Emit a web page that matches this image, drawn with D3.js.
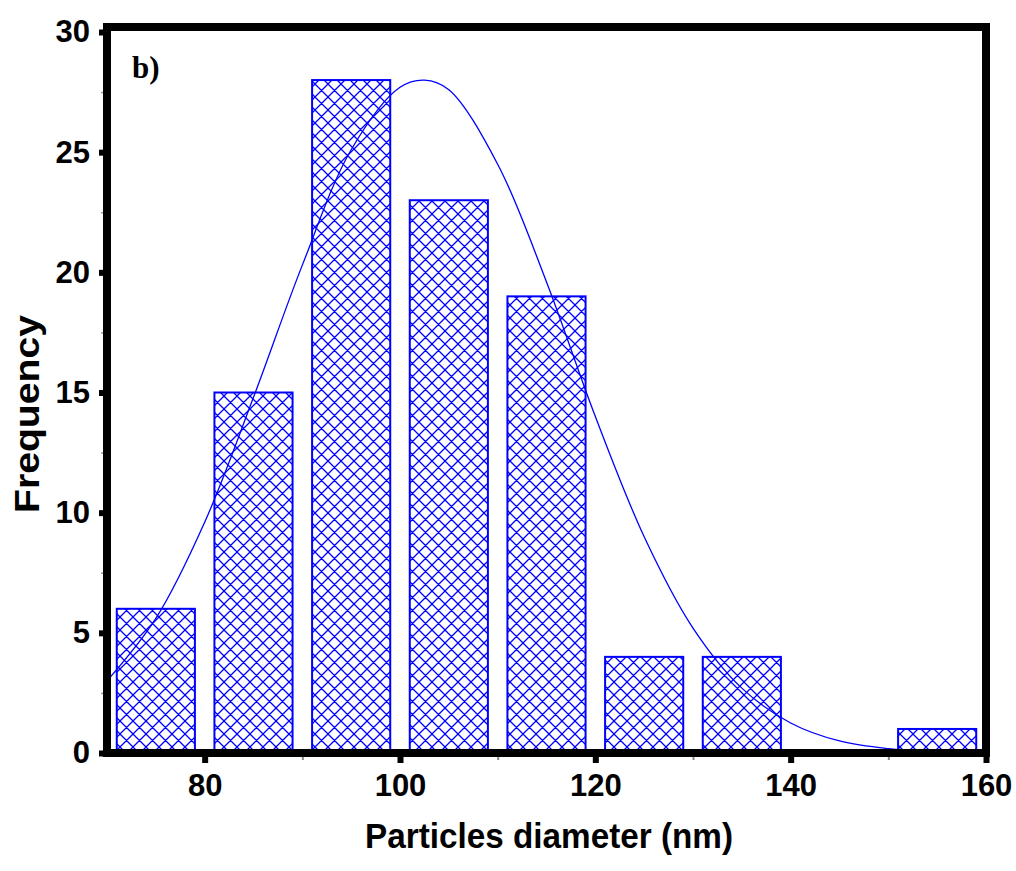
<!DOCTYPE html>
<html>
<head>
<meta charset="utf-8">
<script src="https://cdn.jsdelivr.net/npm/d3@7"></script>
<style>
  body { margin: 0; background: #fff; }
  svg { display: block; }
</style>
</head>
<body>
<div id="chart"></div>
<script>
// histogram bins (bar start, bar end, count)
const binStart = [71, 81, 91, 101, 111, 121, 131, 141, 151];
const binEnd   = [79, 89, 99, 109, 119, 129, 139, 149, 159];
const counts   = [6, 15, 28, 23, 19, 4, 4, 0, 1];

// fitted curve
const fitX = [70, 75, 80, 85, 90, 95, 100, 102.5, 105, 110, 115, 120, 125, 130, 135, 140, 145, 150, 155, 160];
const fitY = [3.0, 5.6, 9.6, 14.8, 20.3, 25.1, 27.7, 28.0, 27.6, 24.5, 19.6, 14.0, 9.0, 5.2, 2.7, 1.25, 0.5, 0.18, 0.06, 0.0];

const xTicks = [80, 100, 120, 140, 160];
const xMinor = [90, 110, 130, 150];
const yTicks = [0, 5, 10, 15, 20, 25, 30];
const yMinor = [2.5, 7.5, 12.5, 17.5, 22.5, 27.5];

const panelLabel = "b)";
const xTitle = "Particles diameter (nm)";
const yTitle = "Frequency";

const svgWidth = 1016, svgHeight = 871;
const margin = {top: 32, right: 30, bottom: 118, left: 107};
const width = svgWidth - margin.left - margin.right;
const height = svgHeight - margin.top - margin.bottom;
const frameTop = -5;   // frame sits a little above the 30 tick

const blue = "#0000ff";

const svg = d3.select("#chart").append("svg")
    .attr("width", svgWidth)
    .attr("height", svgHeight);

const defs = svg.append("defs");
defs.append("pattern")
    .attr("id", "hatch")
    .attr("patternUnits", "userSpaceOnUse")
    .attr("width", 13)
    .attr("height", 13)
    .append("path")
        .attr("d", "M0,0L13,13M13,0L0,13M-1,12L1,14M12,-1L14,1M-1,1L1,-1M12,14L14,12")
        .attr("stroke", blue)
        .attr("stroke-width", 1.3)
        .attr("fill", "none");

defs.append("clipPath")
    .attr("id", "plot-clip")
    .append("rect")
        .attr("y", frameTop)
        .attr("width", width)
        .attr("height", height - frameTop);

const plotArea = svg.append("g")
    .attr("transform", `translate(${margin.left},${margin.top})`);

const x = d3.scaleLinear().domain([70, 160]).range([0, width]);
const y = d3.scaleLinear().domain([0, 30]).range([height, 0]);

const bins = counts.map((c, i) => ({x0: binStart[i], x1: binEnd[i], count: c})).filter(d => d.count > 0);

plotArea.append("g")
    .selectAll("rect")
    .data(bins)
    .enter().append("rect")
        .attr("x", d => x(d.x0))
        .attr("width", d => x(d.x1) - x(d.x0))
        .attr("y", d => y(d.count))
        .attr("height", d => y(0) - y(d.count))
        .attr("fill", "url(#hatch)")
        .attr("stroke", blue)
        .attr("stroke-width", 2);

const line = d3.line()
    .x(d => x(d[0]))
    .y(d => y(d[1]))
    .curve(d3.curveCatmullRom);

plotArea.append("path")
    .datum(fitX.map((v, i) => [v, fitY[i]]))
    .attr("clip-path", "url(#plot-clip)")
    .attr("d", line)
    .attr("fill", "none")
    .attr("stroke", blue)
    .attr("stroke-width", 1.3);

// minor ticks
plotArea.append("g")
    .attr("transform", `translate(0,${height})`)
    .call(d3.axisBottom(x).tickValues(xMinor).tickSize(7).tickFormat(""))
    .call(g => g.select(".domain").remove())
    .call(g => g.selectAll("line").attr("stroke", "#888").attr("stroke-width", 2));

plotArea.append("g")
    .call(d3.axisLeft(y).tickValues(yMinor).tickSize(6).tickFormat(""))
    .call(g => g.select(".domain").remove())
    .call(g => g.selectAll("line").attr("stroke", "#999").attr("stroke-width", 1.5));

// major ticks
const tickFont = g => g.selectAll("text")
    .attr("font-family", "'Liberation Sans', Arial, sans-serif")
    .attr("font-weight", "bold")
    .attr("font-size", 31)
    .attr("fill", "#000");

plotArea.append("g")
    .attr("class", "x-axis")
    .attr("transform", `translate(0,${height})`)
    .call(d3.axisBottom(x).tickValues(xTicks).tickSize(10).tickPadding(11))
    .call(g => g.select(".domain").remove())
    .call(g => g.selectAll("line").attr("stroke", "#000").attr("stroke-width", 6))
    .call(tickFont);

plotArea.append("g")
    .attr("class", "y-axis")
    .call(d3.axisLeft(y).tickValues(yTicks).tickSize(8).tickPadding(9))
    .call(g => g.select(".domain").remove())
    .call(g => g.selectAll("line").attr("stroke", "#000").attr("stroke-width", 6))
    .call(tickFont);

// frame
plotArea.append("rect")
    .attr("y", frameTop)
    .attr("width", width)
    .attr("height", height - frameTop)
    .attr("fill", "none")
    .attr("stroke", "#000")
    .attr("stroke-width", 8);

plotArea.append("text")
    .attr("x", 25)
    .attr("y", 46)
    .attr("font-family", "'Liberation Serif', 'Times New Roman', serif")
    .attr("font-weight", "bold")
    .attr("font-size", 31)
    .text(panelLabel);

svg.append("text")
    .attr("x", 549)
    .attr("y", 848)
    .attr("text-anchor", "middle")
    .attr("font-family", "'Liberation Sans', Arial, sans-serif")
    .attr("font-weight", "bold")
    .attr("font-size", 35)
    .attr("textLength", 368)
    .attr("lengthAdjust", "spacingAndGlyphs")
    .text(xTitle);

svg.append("text")
    .attr("transform", "translate(39,414) rotate(-90)")
    .attr("text-anchor", "middle")
    .attr("font-family", "'Liberation Sans', Arial, sans-serif")
    .attr("font-weight", "bold")
    .attr("font-size", 35)
    .attr("textLength", 198)
    .attr("lengthAdjust", "spacingAndGlyphs")
    .text(yTitle);
</script>
</body>
</html>
